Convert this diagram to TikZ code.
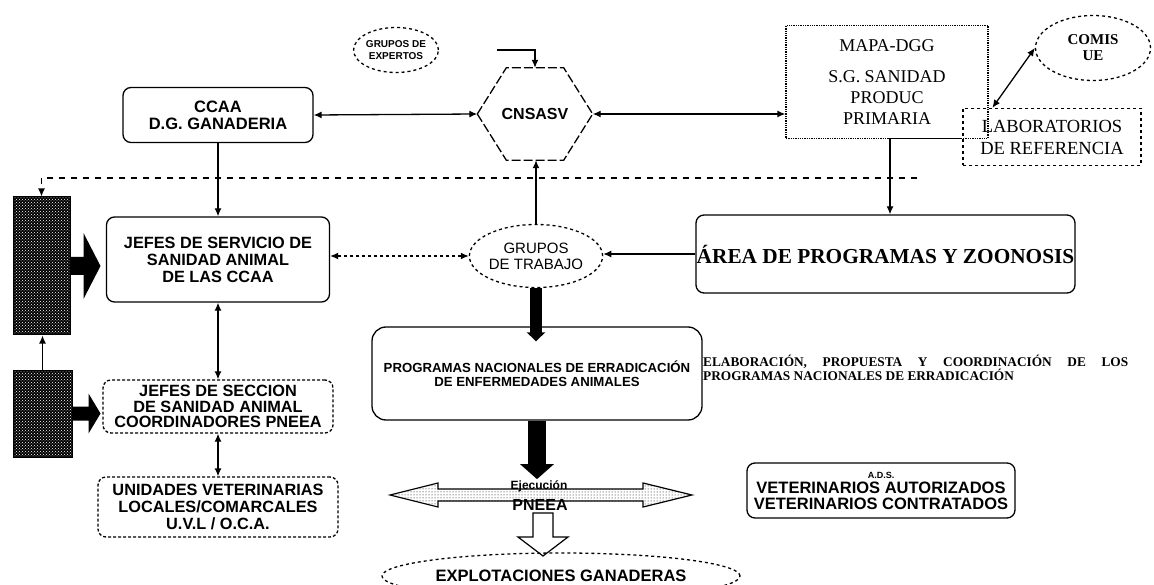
\documentclass[tikz,border=0pt]{standalone}
\usepackage{fontspec}
\setmainfont{Liberation Sans}
\newfontfamily\tms{Liberation Serif}
\usetikzlibrary{arrows.meta,positioning,shapes.geometric,patterns,calc}
\newcommand{\fsz}[2]{\fontsize{#1}{#2}\selectfont}
\tikzset{rbox/.style={rounded corners=8, draw, line width=1.3pt, inner sep=0pt, align=center}}
\tikzset{oval/.style={ellipse, draw, dashed, line width=1.3pt, inner sep=0pt, align=center}}
\tikzset{arr/.style={draw, line width=1.3pt, -{Latex[length=8pt,width=7pt]}}}
\tikzset{darr/.style={draw, line width=1.3pt, {Latex[length=8pt,width=7pt]}-{Latex[length=8pt,width=7pt]}}}
\tikzset{blk/.style={draw, line width=1pt, preaction={fill=black}, pattern=crosshatch dots, pattern color=white, inner sep=0pt}}

\begin{document}
\begin{tikzpicture}[x=1pt,y=-1pt]
		\useasboundingbox (0,0) rectangle (1154,585);
		
		\node[oval, minimum width=82pt, minimum height=45pt, font=\bfseries\fsz{10}{12}] (GE) at (396,50) {GRUPOS DE\\EXPERTOS};
		\node[rbox, minimum width=190pt, minimum height=55pt, font=\bfseries\fsz{16.5}{17}] (CCAA) at (218,115) {CCAA\\D.G. GANADERIA};
		\node[minimum width=115pt, minimum height=92pt, inner sep=0pt, font=\bfseries\fsz{16}{18}] (CN) at (535,114) {CNSASV};
		\draw[line width=1.3pt, dash pattern=on 9pt off 3pt] (CN.west) -- ([xshift=29pt]CN.north west) -- ([xshift=-29pt]CN.north east) -- (CN.east) -- ([xshift=-29pt]CN.south east) -- ([xshift=29pt]CN.south west) -- cycle;
		\node[draw, densely dotted, line width=1.3pt, minimum width=202pt, minimum height=113pt, inner sep=0pt, align=center, font=\tms\fsz{18}{21}] (MAPA) at (887,82) {MAPA-DGG\\[10pt]S.G. SANIDAD\\PRODUC\\PRIMARIA};
		\node[draw, dashed, line width=1.3pt, minimum width=178pt, minimum height=57pt, inner sep=0pt, align=center, font=\tms\fsz{18.5}{22}] (LAB) at (1052,137) {LABORATORIOS\\DE REFERENCIA};
		\node[oval, minimum width=115pt, minimum height=65pt, font=\tms\bfseries\fsz{15}{16}] (UE) at (1093,48) {COMIS\\UE};
		
		\node[blk, minimum width=57pt, minimum height=138pt] (B1) at (41.5,266) {};
		\node[blk, minimum width=59pt, minimum height=87pt] (B2) at (42.5,413.5) {};
		
		\node[rbox, minimum width=223pt, minimum height=85pt, font=\bfseries\fsz{16.3}{17}] (JS) at (218,259.5) {JEFES DE SERVICIO DE\\SANIDAD ANIMAL\\DE LAS CCAA};
		\node[rbox, densely dashed, minimum width=230pt, minimum height=53pt, font=\bfseries\fsz{16.3}{15.5}] (JSEC) at (218,406.5) {JEFES DE SECCION\\DE SANIDAD ANIMAL\\COORDINADORES PNEEA};
		\node[rbox, densely dashed, minimum width=240pt, minimum height=60pt, font=\bfseries\fsz{16.3}{17}] (UVL) at (218,507) {UNIDADES VETERINARIAS\\LOCALES/COMARCALES\\U.V.L / O.C.A.};
		
		\node[oval, minimum width=122pt, minimum height=63pt, font=\fsz{15}{16}] (GT) at (536,256) {GRUPOS\\DE TRABAJO};
		\node[rbox, minimum width=379pt, minimum height=78pt, font=\tms\bfseries\fsz{21.3}{24}] (AREA) at (885.5,254) {ÁREA DE PROGRAMAS Y ZOONOSIS};
		\node[rbox, rounded corners=14, minimum width=330pt, minimum height=93pt, font=\bfseries\fsz{13.2}{14}] (PROG) at (537,373.5) {PROGRAMAS NACIONALES DE ERRADICACIÓN\\DE ENFERMEDADES ANIMALES};
		\node[anchor=west, text width=425pt, align=justify, inner sep=0pt, font=\tms\bfseries\fsz{13.3}{13}] (ELAB) at (703,368) {ELABORACIÓN, PROPUESTA Y COORDINACIÓN DE LOS\linebreak PROGRAMAS NACIONALES DE ERRADICACIÓN};
		\node[rbox, minimum width=268pt, minimum height=55pt, font=\bfseries\fsz{16.5}{15.5}] (ADS) at (881,490.5) {{\fsz{9}{11}A.D.S.}\\VETERINARIOS AUTORIZADOS\\VETERINARIOS CONTRATADOS};
		
		\draw[line width=1.2pt, pattern=dots] (390,495) -- (438,483) -- (438,489) -- (643,489) -- (643,483) -- (692,495) -- (643,507) -- (643,501) -- (438,501) -- (438,507) -- cycle;
		\node[font=\bfseries\fsz{12}{12}, inner sep=1pt] (EJ) at (539,486) {Ejecución};
		\node[font=\bfseries\fsz{16}{16}, inner sep=0pt] (PN) at (540,505) {PNEEA};
		\draw[line width=1.2pt, fill=white] (533,513) -- (553,513) -- (553,537) -- (568,537) -- (543,556) -- (518,537) -- (533,537) -- cycle;
		\node[oval, minimum width=358pt, minimum height=46pt, font=\bfseries\fsz{16.5}{17}] (EXPL) at (561,576) {EXPLOTACIONES GANADERAS};
		
		\coordinate (GE1) at (497,50);
		\coordinate (M1) at (890,138.5);
		\coordinate (D1) at (917,178);
		
		\draw[arr] (GE1) -| (CN.north);
		\draw[darr] (CCAA.east) -- (CN.west);
		\draw[darr] (CN.east) -- (CN.east -| MAPA.west);
		\draw[darr] (UE.west) -- ([xshift=30pt]LAB.north west);
		\draw[line width=1.3pt] (M1) -- (M1 -| LAB.west);
		\draw[arr] (M1) -- (M1 |- AREA.north);
		\draw[arr, dash pattern=on 6pt off 6pt] (D1) -| (B1.north);
		
		\draw[arr] (B2.north) -- (B2.north |- B1.south);
		\fill ($(B1.east)+(0,-9)$) -- ++(13,0) -- ++(0,-24) -- ($(B1.east)+(30,0)$) -- ++(-17,33) -- ++(0,-24) -- ($(B1.east)+(0,9)$) -- cycle;
		\fill ($(B2.east)+(0,-7)$) -- ++(16,0) -- ++(0,-13) -- ($(B2.east)+(28,0)$) -- ++(-12,20) -- ++(0,-13) -- ($(B2.east)+(0,7)$) -- cycle;
		
		\draw[arr] (CCAA.south) -- (JS.north);
		\draw[darr] (JS.south) -- (JSEC.north);
		\draw[darr] (JSEC.south) -- (UVL.north);
		
		\draw[arr] (GT.north) -- (GT.north |- CN.south);
		\draw[darr, dashed] (GT.west) -- (GT.west -| JS.east);
		\draw[arr] (AREA.west) -- (AREA.west -| GT.east);
		\draw[line width=12pt, -{Triangle[length=9pt,width=18pt]}, shorten >=-15pt] (GT.south) -- (GT.south |- PROG.north);
		\draw[line width=18pt, -{Triangle[length=15pt,width=33pt]}] (PROG.south) -- (PROG.south |- EJ.north);
	\end{tikzpicture}
\end{document}
